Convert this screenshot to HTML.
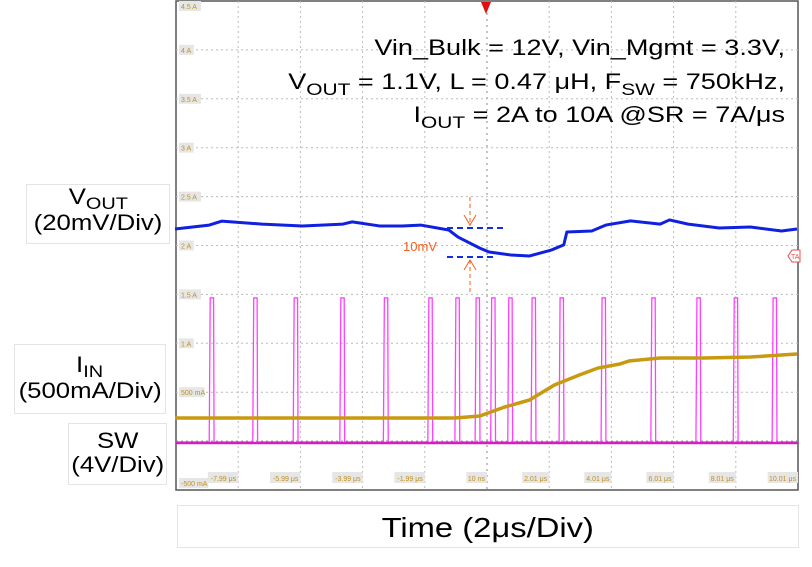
<!DOCTYPE html>
<html><head><meta charset="utf-8"><style>
body{margin:0;background:#fff;width:812px;height:567px;overflow:hidden;font-family:"Liberation Sans",sans-serif}
.box{position:absolute;border:1px solid #e4e4e4;background:#fff;text-align:center;color:#000;font-size:22px;line-height:24px}
.sx{display:inline-block;transform:scaleX(1.17)}
</style></head><body>
<svg id="chart" width="812" height="567" style="position:absolute;left:0;top:0" xmlns="http://www.w3.org/2000/svg">
<g id="grid"></g>
<g id="ylabels"></g>
<g id="xlabels"></g>
<g id="series"></g>
<polygon points="481,2 491,2 486,14" fill="#e01010"/>
<g stroke="#f06020" fill="none">
<line x1="447" y1="228" x2="503" y2="228" stroke="#1030e0" stroke-width="2" stroke-dasharray="6,4"/>
<line x1="447" y1="257" x2="496" y2="257" stroke="#1030e0" stroke-width="2" stroke-dasharray="6,4"/>
<line x1="470" y1="197" x2="470" y2="226" stroke-dasharray="4,3"/>
<polyline points="464,215 470,225 476,215"/>
<line x1="470" y1="260" x2="470" y2="292" stroke-dasharray="4,3"/>
<polyline points="464,270 470,260 476,270"/>
</g>
<text x="403" y="251" font-size="13" fill="#f06020" font-family="Liberation Sans">10mV</text>
<g><polygon points="788,256 792,250 800,250 800,262 792,262" fill="#fff" stroke="#e05050"/><text x="791" y="259" font-size="7" fill="#e05050">TA</text></g>
<g font-family="Liberation Sans" font-size="22" fill="#000" text-anchor="end" transform="translate(785,0) scale(1.23,1) translate(-785,0)">
<text x="785" y="55">Vin_Bulk = 12V, Vin_Mgmt = 3.3V,</text>
<text x="785" y="89">V<tspan font-size="17" dy="6">OUT</tspan><tspan dy="-6"> = 1.1V, L = 0.47 μH, F</tspan><tspan font-size="17" dy="6">SW</tspan><tspan dy="-6"> = 750kHz,</tspan></text>
<text x="785" y="122">I<tspan font-size="17" dy="6">OUT</tspan><tspan dy="-6"> = 2A to 10A @SR = 7A/μs</tspan></text>
</g>
</svg>
<div class="box" style="left:26px;top:184px;width:142px;height:58px"><span class="sx">V<span style="font-size:17px;position:relative;top:5px">OUT</span></span><br><span class="sx">(20mV/Div)</span></div>
<div class="box" style="left:14px;top:344px;width:152px;height:70px;padding-top:8px;box-sizing:border-box"><span class="sx">I<span style="font-size:17px;position:relative;top:5px">IN</span></span><br><span class="sx">(500mA/Div)</span></div>
<div class="box" style="left:68px;top:423px;width:99px;height:62px;padding-top:5px;box-sizing:border-box"><span class="sx">SW</span><br><span class="sx">(4V/Div)</span></div>
<div class="box" style="left:177px;top:505px;width:620px;height:41px;font-size:28px;line-height:43px"><span class="sx">Time (2μs/Div)</span></div>
<script>
const yTickLabels=["4.5 A","4 A","3.5 A","3 A","2.5 A","2 A","1.5 A","1 A","500 mA","","-500 mA"];
const xTickLabels=["-7.99 μs","-5.99 μs","-3.99 μs","-1.99 μs","10 ns","2.01 μs","4.01 μs","6.01 μs","8.01 μs","10.01 μs"];
const vT=[-10,-8.9,-8.5,-7.2,-5.9,-4.6,-4.3,-3.4,-2.7,-2.1,-1.2,-0.9,-0.2,0.1,0.8,1.4,2.1,2.5,2.6,3.4,3.85,4.65,5.6,5.9,6.5,7.5,8.5,9.5,10];
const voutMv=[0,1.6,3.2,2,1.2,2,2.9,1.2,1.2,1.6,-0.4,-3.3,-7.8,-9.4,-10.6,-11,-8.6,-6.5,-1.2,-0.8,1.6,3.3,2,3.7,2,0.4,0.8,-0.8,0];
const iinTime=[-10,-1,-0.2,0.6,1.4,2.2,3,3.6,4.3,4.6,5.6,7,8.5,10];
const iinA=[0.245,0.245,0.265,0.357,0.429,0.582,0.684,0.755,0.796,0.827,0.857,0.857,0.867,0.898];
const swRise=[-8.9,-7.5,-6.2,-4.7,-3.3,-1.87,-1.0,-0.35,0.15,0.7,1.45,2.35,3.7,5.3,6.75,7.95,9.2];
const swWidth=0.14;
const swHighA=1.47, swLowA=0.0;

const X0=176,X1=798,Y0=1,Y1=490;
const xs=t=>486+t*(X1-X0)/20;
const ya=a=>442-a*98;
const yv=mv=>229-mv*49/20;
const NS="http://www.w3.org/2000/svg";
function el(tag,attrs,parent){const e=document.createElementNS(NS,tag);for(const k in attrs)e.setAttribute(k,attrs[k]);parent.appendChild(e);return e;}
const grid=document.getElementById('grid');
el('rect',{x:X0,y:Y0,width:X1-X0,height:Y1-Y0,fill:'#fff',stroke:'#555','stroke-width':1.5},grid);
for(let i=1;i<10;i++){const x=X0+i*(X1-X0)/10;
 const l=el('line',{x1:x,y1:Y0,x2:x,y2:Y1,stroke:i==5?'#888':'#bbb','stroke-dasharray':i==5?'2,4':'2,3'},grid);
 
 }
for(let i=1;i<10;i++){const y=Y0+i*(Y1-Y0)/10;
 const l=el('line',{x1:X0,y1:y,x2:X1,y2:y,stroke:i==9?'#888':'#bbb','stroke-dasharray':'2,3'},grid);
 
 }
const yl=document.getElementById('ylabels');
yTickLabels.forEach((s,i)=>{if(!s)return;const y=Y0+i*(Y1-Y0)/10+(i==0?8:i==10?-4:3);
 const w=s.length*3.6+4;
 el('rect',{x:X0+3,y:y-8,width:w,height:10,fill:'#e6e6e6'},yl);
 const t=el('text',{x:X0+5,y:y,'font-size':7,fill:'#c09020','font-family':'Liberation Sans'},yl);t.textContent=s;
 
 });
const xl=document.getElementById('xlabels');
xTickLabels.forEach((s,i)=>{const x=X0+(i+1)*(X1-X0)/10;const w=s.length*3.3+4;
 el('rect',{x:x-w,y:472,width:w,height:11,fill:'#e6e6e6'},xl);
 const t=el('text',{x:x-2,y:481,'font-size':7,fill:'#c09020','text-anchor':'end','font-family':'Liberation Sans'},xl);t.textContent=s;
 
 });
const sg=document.getElementById('series');
let d=`M${X0} ${ya(swLowA)}`;
swRise.forEach(t=>{d+=` L${xs(t)} ${ya(swLowA)} L${xs(t)+1} ${ya(swHighA)} L${xs(t+swWidth)} ${ya(swHighA)} L${xs(t+swWidth)+0.5} ${ya(swLowA)}`;});
d+=` L${X1} ${ya(swLowA)}`;
const sw=el('path',{d:d,fill:'none',stroke:'#ff40ff','stroke-width':1.3},sg);


el('line',{x1:X0,y1:ya(0)+1,x2:X1,y2:ya(0)+1,stroke:'#d020c0','stroke-width':2.5},sg);
const ip=el('polyline',{points:iinTime.map((t,i)=>xs(t)+','+ya(iinA[i])).join(' '),fill:'none',stroke:'#c89a10','stroke-width':3.5},sg);


const vp=el('polyline',{points:vT.map((t,i)=>xs(t)+','+yv(voutMv[i])).join(' '),fill:'none',stroke:'#1020e0','stroke-width':3,'stroke-linejoin':'round'},sg);


</script>
</body></html>
